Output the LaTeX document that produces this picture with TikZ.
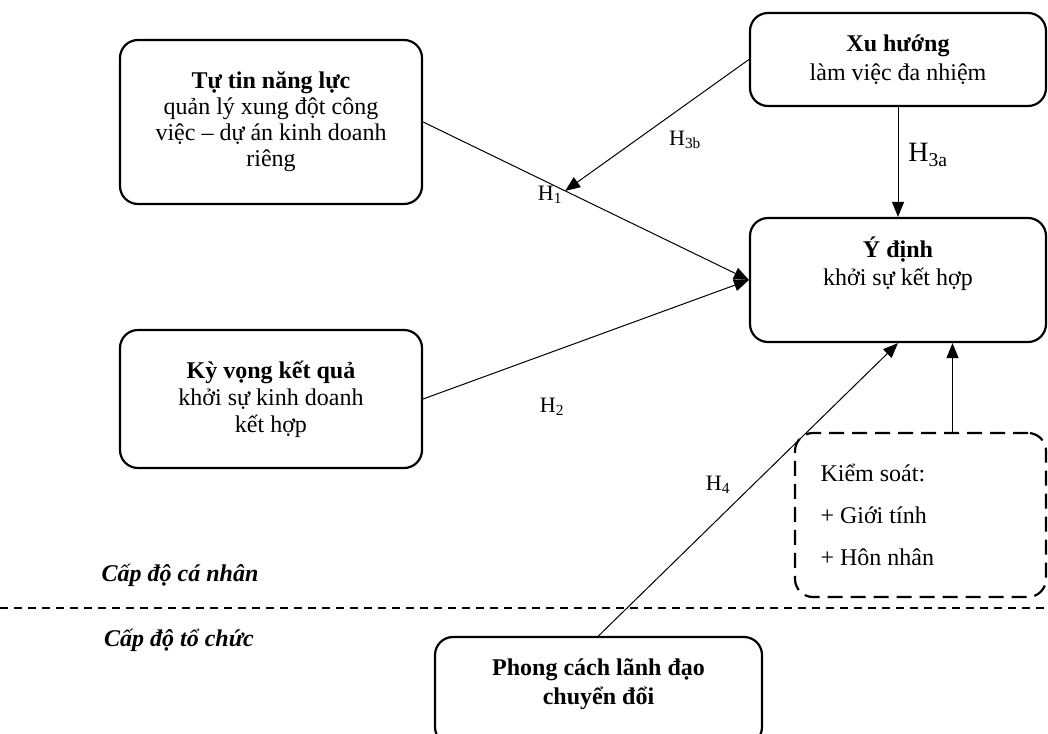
\documentclass[tikz,border=0pt]{standalone}
\usepackage{fontspec}
\setmainfont{Liberation Serif}
\usetikzlibrary{arrows.meta,positioning}
\begin{document}
\begin{tikzpicture}[x=1pt,y=-1pt,line width=1pt,>={Triangle[length=15pt,width=12pt]},
	font=\fontsize{24}{26}\selectfont,
	box/.style={draw,line width=2.2pt,rounded corners=18pt,align=center,inner sep=0pt},
	ctlbox/.style={box,dash pattern=on 15pt off 8pt},
	hyp/.style={font=\fontsize{22}{24}\selectfont}]
	\useasboundingbox (0,0) rectangle (1048,733);
	\node[box,minimum width=302pt,minimum height=164pt] (tutin) at (271,122) {\textbf{Tự tin năng lực}\\quản lý xung đột công\\việc – dự án kinh doanh\\riêng};
	\node[box,minimum width=302pt,minimum height=138pt,font=\fontsize{24}{27}\selectfont] (kyvong) at (271,399) {\textbf{Kỳ vọng kết quả}\\khởi sự kinh doanh\\kết hợp};
	\node[box,minimum width=296pt,minimum height=93pt,font=\fontsize{24}{29}\selectfont] (xuhuong) at (898,59.5) {\textbf{Xu hướng}\\làm việc đa nhiệm};
	\node[box,minimum width=296pt,minimum height=124pt] (ydinh) at (898,280) {};
	\node[below=16pt of ydinh.north,align=center,font=\fontsize{24}{28}\selectfont] (ydinhtext) {\textbf{Ý định}\\khởi sự kết hợp};
	\node[ctlbox,minimum width=251pt,minimum height=164pt,text width=200pt,align=flush left,font=\fontsize{24}{42}\selectfont] (kiemsoat) at (920.5,515) {Kiểm soát:\\+ Giới tính\\+ Hôn nhân};
	\node[box,minimum width=327pt,minimum height=108pt] (phong) at (598.5,691) {};
	\node[below=19pt of phong.north,align=center,font=\fontsize{24}{29}\selectfont] (phongtext) {\textbf{Phong cách lãnh đạo}\\\textbf{chuyển đổi}};
	% cap do
	\node (canhan) at (180,575) {\textbf{\textit{Cấp độ cá nhân}}};
	\node (tochuc) at (179,640) {\textbf{\textit{Cấp độ tổ chức}}};
	\coordinate (divL) at (0,608);
	\coordinate (divR) at (1048,608);
	\draw[line width=1.2pt,dash pattern=on 8pt off 6pt] (divL) -- (divR);
	% gia thuyet
	\draw[->] (tutin.east) -- (ydinh.west);
	\draw[->] (kyvong.east) -- (ydinh.west);
	\path (tutin.east) -- (ydinh.west) coordinate[pos=0.436] (h1mid);
	\draw[->] (xuhuong.west) -- (h1mid);
	\draw[->] (xuhuong.south) -- (ydinh.north);
	\draw[->] ([xshift=32pt]kiemsoat.north) -- ([xshift=32pt]kiemsoat.north |- ydinh.south);
	\draw[->] (phong.north) -- (ydinh.south);
	\node[hyp] (h1) at (550,195) {H\textsubscript{1}};
	\node[hyp] (h2) at (552,407) {H\textsubscript{2}};
	\node[hyp] (h3b) at (685,140) {H\textsubscript{3b}};
	\node[hyp,font=\fontsize{28}{30}\selectfont] (h3a) at (928,155) {H\textsubscript{3a}};
	\node[hyp] (h4) at (718,485) {H\textsubscript{4}};
\end{tikzpicture}
\end{document}
